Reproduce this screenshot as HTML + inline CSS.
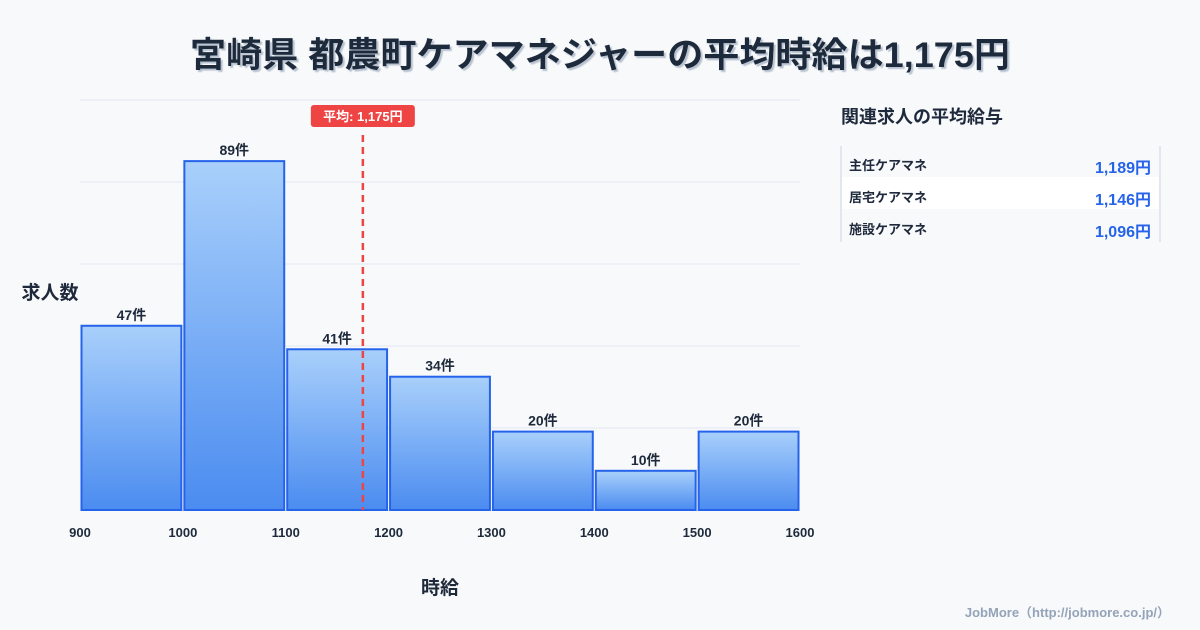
<!DOCTYPE html>
<html><head><meta charset="utf-8"><style>
body{margin:0;background:#f8f9fb;font-family:"Liberation Sans","Noto Sans CJK JP",sans-serif;}
#root{position:relative;width:1200px;height:630px;overflow:hidden;background:#f8f9fb;}
</style></head><body>
<div id="root">
<svg width="1200" height="630" id="svg" style="position:absolute;left:0;top:0">
<defs>
<linearGradient id="g" x1="0" y1="0" x2="0" y2="1"><stop offset="0" stop-color="#a9d0fb"/><stop offset="1" stop-color="#4b8cf0"/></linearGradient>
<filter id="sh"><feDropShadow dx="2" dy="2" stdDeviation="0.5" flood-color="#b8c2d0"/></filter>
</defs>
<text x="600" y="67" text-anchor="middle" font-size="35" font-weight="bold" fill="#1e293b" filter="url(#sh)" textLength="820" lengthAdjust="spacingAndGlyphs">宮崎県 都農町ケアマネジャーの平均時給は1,175円</text>
<g id="grid"></g><g id="bars"></g><g id="ticks"></g>
<text x="50" y="299" text-anchor="middle" font-size="19" font-weight="bold" fill="#1e293b">求人数</text>
<text x="440" y="594" text-anchor="middle" font-size="19" font-weight="bold" fill="#1e293b">時給</text>
<g id="avg"></g>
<text x="841" y="123" font-size="18" font-weight="bold" fill="#1e293b">関連求人の平均給与</text>
<line x1="841" y1="146" x2="841" y2="242" stroke="#cbd5e1"/>
<line x1="1160" y1="146" x2="1160" y2="242" stroke="#cbd5e1"/>
<rect x="842" y="177" width="317" height="32" fill="#ffffff"/>
<g font-size="13" font-weight="bold" fill="#1e293b">
<text x="849" y="170">主任ケアマネ</text>
<text x="849" y="202">居宅ケアマネ</text>
<text x="849" y="234">施設ケアマネ</text>
</g>
<g font-size="16" font-weight="bold" fill="#2563eb" text-anchor="end">
<text x="1151" y="173">1,189円</text>
<text x="1151" y="205">1,146円</text>
<text x="1151" y="237">1,096円</text>
</g>
<text x="1170" y="617" text-anchor="end" font-size="13" font-weight="bold" fill="#94a3b8">JobMore（http://jobmore.co.jp/）</text>
</svg>
</div>
<script>
const binStarts=[900,1000,1100,1200,1300,1400,1500];
const counts=[47,89,41,34,20,10,20];
const xTicks=[900,1000,1100,1200,1300,1400,1500,1600];
const avgValue=1175;
const avgLabel="平均: 1,175円";
const NS="http://www.w3.org/2000/svg";
const X=v=>80+(v-900)*720/700;
const Y=c=>510-c*3.92;
function mk(t,a,p){const e=document.createElementNS(NS,t);for(const k in a)e.setAttribute(k,a[k]);p.appendChild(e);return e;}
const grid=document.getElementById('grid');
for(let i=0;i<6;i++){const l=mk('line',{x1:80,x2:800,y1:100+i*82,y2:100+i*82,stroke:'#e2e8f0'},grid);

}
const bars=document.getElementById('bars');
binStarts.forEach((b,i)=>{
const x0=X(b)+1.5,x1=X(b+100)-1.5;
const r=mk('rect',{x:x0,y:Y(counts[i]),width:x1-x0,height:510-Y(counts[i]),fill:'url(#g)',stroke:'#2563eb','stroke-width':2},bars);


const t=mk('text',{x:(x0+x1)/2,y:Y(counts[i])-6,'text-anchor':'middle','font-size':14,'font-weight':'bold',fill:'#1e293b'},bars);
t.textContent=counts[i]+'件';


});
const ticks=document.getElementById('ticks');
xTicks.forEach(v=>{const t=mk('text',{x:X(v),y:537,'text-anchor':'middle','font-size':13,'font-weight':'bold',fill:'#1e293b'},ticks);
t.textContent=v;

});
const avg=document.getElementById('avg');
const ax=X(avgValue);
const l=mk('line',{x1:ax,x2:ax,y1:135,y2:510,stroke:'#ef4444','stroke-width':2.5,'stroke-dasharray':'7,5'},avg);


const r=mk('rect',{x:ax-52,y:105,width:104,height:22,rx:3,fill:'#ef4444'},avg);


const t=mk('text',{x:ax,y:121,'text-anchor':'middle','font-size':13,'font-weight':'bold',fill:'#fff'},avg);
t.textContent=avgLabel;


</script>
</body></html>
